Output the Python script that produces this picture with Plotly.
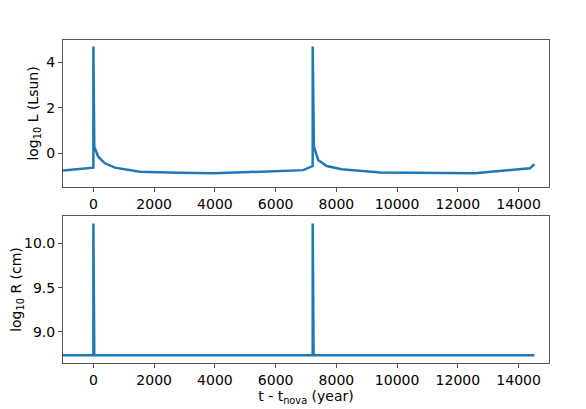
import plotly.graph_objects as go
from plotly.subplots import make_subplots

# luminosity curve
t_lum = [-1000, 0, 0, 30, 160, 380, 710, 1530, 2800, 4000, 6910,
         7220, 7220, 7260, 7400, 7680, 8170, 9440, 12560, 14370, 14520]
log_lum = [-0.76, -0.63, 4.69, 0.29, -0.15, -0.44, -0.63, -0.81, -0.85, -0.88, -0.74,
           -0.56, 4.69, 0.29, -0.29, -0.56, -0.70, -0.84, -0.88, -0.66, -0.48]

# radius curve
t_rad = [-1000, 0, 0, 30, 7220, 7220, 7250, 14520]
log_rad = [8.737, 8.737, 10.225, 8.737, 8.737, 10.225, 8.737, 8.737]

x_ticks = [0, 2000, 4000, 6000, 8000, 10000, 12000, 14000]

blue = "#1f77b4"
frame = "#555555"
font = "DejaVu Sans"

fig = make_subplots(rows=2, cols=1, vertical_spacing=0.09)

fig.add_trace(go.Scatter(x=t_lum, y=log_lum, mode="lines",
                         line=dict(color=blue, width=2.5)), row=1, col=1)
fig.add_trace(go.Scatter(x=t_rad, y=log_rad, mode="lines",
                         line=dict(color=blue, width=2.5)), row=2, col=1)

axis_style = dict(showline=True, mirror=True, linecolor=frame, linewidth=1,
                  ticks="outside", ticklen=4, tickcolor=frame,
                  showgrid=False, zeroline=False, automargin=False,
                  tickfont=dict(family=font, size=14, color="black"))

fig.update_xaxes(range=[-1000, 15000], tickvals=x_ticks,
                 ticktext=[str(v) for v in x_ticks], **axis_style)
fig.update_xaxes(title=dict(text="t - t<sub>nova</sub> (year)",
                            font=dict(family=font, size=14, color="black"),
                            standoff=0), row=2, col=1)

fig.update_yaxes(range=[-1.48, 4.98], tickvals=[0, 2, 4],
                 title=dict(text="log<sub>10</sub> L (Lsun)",
                            font=dict(family=font, size=14, color="black"), standoff=4),
                 row=1, col=1, **axis_style)
fig.update_yaxes(range=[8.65, 10.308], tickvals=[9.0, 9.5, 10.0],
                 ticktext=["9.0", "9.5", "10.0"],
                 title=dict(text="log<sub>10</sub> R (cm)",
                            font=dict(family=font, size=14, color="black"), standoff=4),
                 row=2, col=1, **axis_style)

# the page puts the figure 8px in from the corner, so shrink by that
fig.update_layout(
    width=578, height=401,
    margin=dict(l=55, r=37, t=32, b=46),
    paper_bgcolor="white", plot_bgcolor="white",
    showlegend=False,
    font=dict(family=font, size=14, color="black"),
)

fig.write_html("out.html")
